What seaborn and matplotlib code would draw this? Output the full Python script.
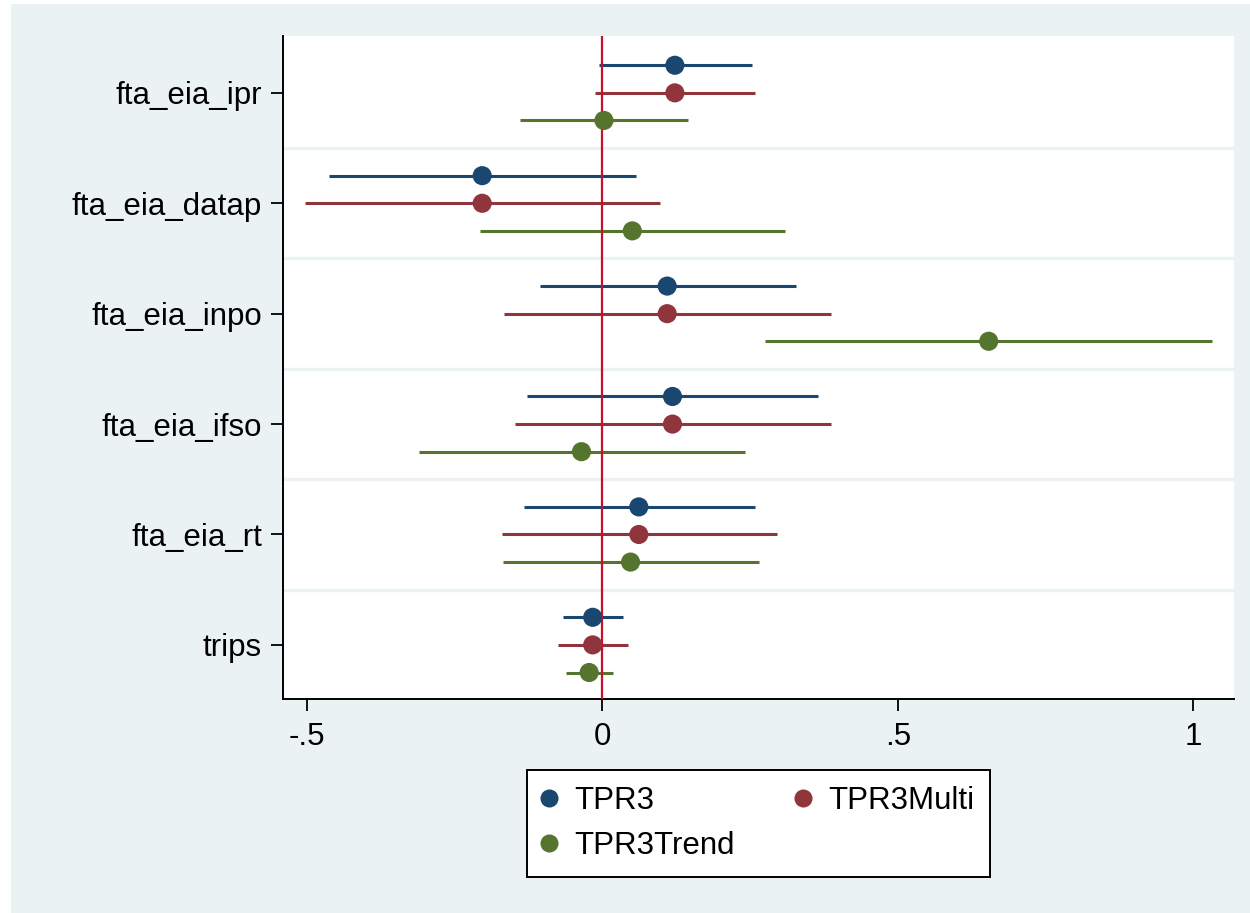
import numpy as np
import pandas as pd
import seaborn as sns
import matplotlib.pyplot as plt
from matplotlib.lines import Line2D
from matplotlib.patches import Rectangle

# Coefficients and 95% confidence bounds by model
variables = ["fta_eia_ipr", "fta_eia_datap", "fta_eia_inpo", "fta_eia_ifso", "fta_eia_rt", "trips"]
models = ["TPR3", "TPR3Multi", "TPR3Trend"]

tpr3_coef = [0.123, -0.203, 0.110, 0.119, 0.062, -0.016]
tpr3_lo = [-0.006, -0.462, -0.106, -0.128, -0.132, -0.066]
tpr3_hi = [0.253, 0.057, 0.328, 0.365, 0.258, 0.035]

multi_coef = [0.123, -0.203, 0.110, 0.119, 0.062, -0.016]
multi_lo = [-0.012, -0.503, -0.166, -0.148, -0.170, -0.075]
multi_hi = [0.259, 0.098, 0.387, 0.387, 0.295, 0.044]

trend_coef = [0.003, 0.051, 0.654, -0.035, 0.048, -0.022]
trend_lo = [-0.139, -0.207, 0.275, -0.310, -0.168, -0.061]
trend_hi = [0.146, 0.309, 1.032, 0.241, 0.266, 0.019]

x_ticks = [-0.5, 0, 0.5, 1]
x_tick_labels = ["-.5", "0", ".5", "1"]

colors = {"TPR3": "#1A476F", "TPR3Multi": "#90353B", "TPR3Trend": "#55752F"}
offsets = {"TPR3": -0.25, "TPR3Multi": 0.0, "TPR3Trend": 0.25}
bg = "#EAF2F3"

frames = []
for name, c, lo, hi in [("TPR3", tpr3_coef, tpr3_lo, tpr3_hi),
                        ("TPR3Multi", multi_coef, multi_lo, multi_hi),
                        ("TPR3Trend", trend_coef, trend_lo, trend_hi)]:
    frames.append(pd.DataFrame({"variable": variables, "model": name,
                                "coef": c, "lo": lo, "hi": hi}))
df = pd.concat(frames, ignore_index=True)
df["pos"] = df["variable"].map({v: i + 1 for i, v in enumerate(variables)}) + df["model"].map(offsets)

sns.set_style("white")
plt.rcParams["font.family"] = ["Liberation Sans", "DejaVu Sans"]
plt.rcParams["text.color"] = "black"
plt.rcParams["xtick.color"] = "black"
plt.rcParams["ytick.color"] = "black"

fig = plt.figure(figsize=(12.5, 9.13), dpi=100, facecolor="white")
fig.patches.append(Rectangle((11 / 1250, 0), 1 - 11 / 1250, 1 - 4 / 913,
                             transform=fig.transFigure, facecolor=bg,
                             edgecolor="none", zorder=-10))
ax = fig.add_axes([283 / 1250, 1 - 699 / 913, (1234 - 283) / 1250, (699 - 36) / 913])
ax.set_facecolor("white")

# group separators
for k in range(1, len(variables)):
    ax.axhline(k + 0.5, color=bg, lw=2.4, zorder=0)

# confidence intervals
for m in models:
    sub = df[df["model"] == m]
    ax.hlines(sub["pos"], sub["lo"], sub["hi"], color=colors[m], lw=2.2, zorder=2)

ax.axvline(0, color="#C8102E", lw=1.6, zorder=3)

sns.scatterplot(data=df, x="coef", y="pos", hue="model", palette=colors,
                hue_order=models, s=190, linewidth=0, legend=False, ax=ax, zorder=4)

ax.set_xlim(-0.540, 1.069)
ax.set_ylim(6.49, 0.485)
ax.set_yticks(range(1, len(variables) + 1))
ax.set_yticklabels(variables)
ax.set_xticks(x_ticks)
ax.set_xticklabels(x_tick_labels)
ax.set_xlabel("")
ax.set_ylabel("")
ax.tick_params(axis="both", which="major", labelsize=22.5, length=8.6, width=1.3,
               color="black", labelcolor="black", direction="out", left=True, bottom=True)
ax.tick_params(axis="y", pad=6.5)
ax.tick_params(axis="x", pad=8)
for side in ["top", "right"]:
    ax.spines[side].set_visible(False)
for side in ["left", "bottom"]:
    ax.spines[side].set_color("black")
    ax.spines[side].set_linewidth(1.4)

# legend filled row by row: TPR3, TPR3Multi / TPR3Trend
legend_order = ["TPR3", "TPR3Trend", "TPR3Multi"]
handles = [Line2D([0], [0], marker="o", linestyle="none", markersize=13,
                  markerfacecolor=colors[m], markeredgewidth=0, label=m) for m in legend_order]
leg = fig.legend(handles=handles, loc="upper left",
                 bbox_to_anchor=(527 / 1250, 1 - 872 / 913, (990 - 527) / 1250, (872 - 770) / 913),
                 mode="expand", ncol=2, fontsize=22.5, frameon=True, fancybox=False,
                 framealpha=1.0, handletextpad=0.62, handlelength=0.4, borderpad=0.5,
                 labelspacing=0.5, columnspacing=1.0, borderaxespad=0)
leg.get_frame().set_edgecolor("black")
leg.get_frame().set_linewidth(1.4)
leg.get_frame().set_facecolor("white")
for t in leg.get_texts():
    t.set_color("black")

fig.savefig("out.png", dpi=100, facecolor=fig.get_facecolor())
